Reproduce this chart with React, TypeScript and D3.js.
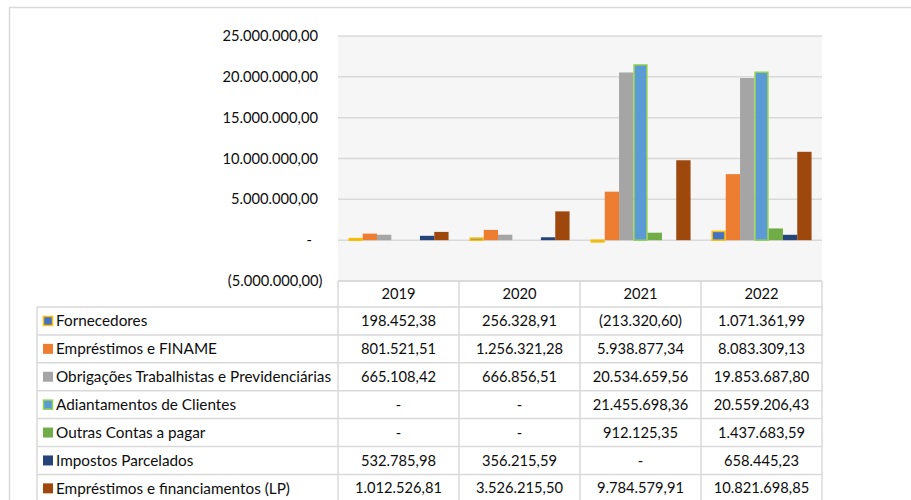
import React, { useEffect, useRef } from 'react';
import * as d3 from 'd3';

const years = ['2019', '2020', '2021', '2022'];

const seriesNames = [
  'Fornecedores',
  'Empréstimos e FINAME',
  'Obrigações Trabalhistas e Previdenciárias',
  'Adiantamentos de Clientes',
  'Outras Contas a pagar',
  'Impostos Parcelados',
  'Empréstimos e financiamentos (LP)',
];

const fornecedores = [198452.38, 256328.91, -213320.6, 1071361.99];
const emprestimosFiname = [801521.51, 1256321.28, 5938877.34, 8083309.13];
const obrigacoes = [665108.42, 666856.51, 20534659.56, 19853687.8];
const adiantamentos = [0, 0, 21455698.36, 20559206.43];
const outrasContas = [0, 0, 912125.35, 1437683.59];
const impostos = [532785.98, 356215.59, 0, 658445.23];
const emprestimosLP = [1012526.81, 3526215.5, 9784579.91, 10821698.85];

const seriesValues = [fornecedores, emprestimosFiname, obrigacoes, adiantamentos, outrasContas, impostos, emprestimosLP];

const fills = ['#4472c4', '#ed7d31', '#a5a5a5', '#5b9bd5', '#70ad47', '#264478', '#9e480e'];
const strokes = ['#ffc000', null, null, '#92d050', null, null, null];

const yTicks = [-5000000, 0, 5000000, 10000000, 15000000, 20000000, 25000000];

const locale = d3.formatLocale({ decimal: ',', thousands: '.', grouping: [3], currency: ['R$', ''] });
const fmt = locale.format('(,.2f');
const fmtVal = (v: number) => (v === 0 ? '-' : fmt(v));

const App: React.FC = () => {
  const ref = useRef<SVGSVGElement | null>(null);

  useEffect(() => {
    if (!ref.current) return;
    const W = 911;
    const H = 500;
    const plot = { left: 338, right: 822, top: 36, bottom: 281 };
    const rowH = 27.9;
    const headerBottom = 307;
    const tableLeft = 37;
    const font = 'Lato, "Noto Sans", sans-serif';
    const lineColor = '#d9d9d9';
    const textColor = '#0d0d0d';

    const svg = d3.select(ref.current);
    svg.selectAll('*').remove();
    svg.attr('width', W).attr('height', H).style('font-family', font);

    svg.append('rect').attr('width', W).attr('height', H).attr('fill', '#fff');

    // chart outer border
    svg.append('path')
      .attr('d', `M9.5,${H} L9.5,7.5 L${W},7.5`)
      .attr('fill', 'none').attr('stroke', lineColor).attr('stroke-width', 1.5);

    const x0 = d3.scaleBand().domain(years).range([plot.left, plot.right]);
    const x1 = d3.scaleBand().domain(seriesNames).range([0, x0.bandwidth()]).paddingOuter(0.73);
    const y = d3.scaleLinear().domain([-5000000, 25000000]).range([plot.bottom, plot.top]);

    svg.append('rect')
      .attr('x', plot.left).attr('y', plot.top)
      .attr('width', plot.right - plot.left).attr('height', plot.bottom - plot.top)
      .attr('fill', '#f6f6f6');

    svg.append('g').selectAll('line').data(yTicks).enter().append('line')
      .attr('x1', plot.left).attr('x2', plot.right)
      .attr('y1', d => y(d)).attr('y2', d => y(d))
      .attr('stroke', lineColor).attr('stroke-width', 1.5);

    svg.append('g').selectAll('text').data(yTicks).enter().append('text')
      .attr('x', d => (d < 0 ? 322.5 : d === 0 ? 312 : 318))
      .attr('y', d => y(d))
      .attr('dy', '0.35em')
      .attr('text-anchor', 'end')
      .attr('font-size', 14.7)
      .attr('fill', textColor)
      .text(d => (d === 0 ? '-' : fmt(d)));

    // bars
    seriesNames.forEach((name, si) => {
      const g = svg.append('g');
      g.selectAll('rect').data(seriesValues[si].map((v, i) => ({ v, year: years[i] })))
        .enter().append('rect')
        .filter(d => d.v !== 0)
        .attr('x', d => (x0(d.year) || 0) + (x1(name) || 0) + (strokes[si] ? 0.75 : 0))
        .attr('y', d => Math.min(y(d.v), y(0)))
        .attr('width', x1.bandwidth() - (strokes[si] ? 1.5 : 0))
        .attr('height', d => Math.abs(y(d.v) - y(0)))
        .attr('fill', fills[si])
        .attr('stroke', strokes[si] || 'none')
        .attr('stroke-width', 1.5);
    });

    // data table
    const tableBottom = headerBottom + rowH * seriesNames.length;
    const t = svg.append('g').attr('stroke', lineColor).attr('stroke-width', 1.5);
    t.append('line').attr('x1', plot.left).attr('x2', plot.right).attr('y1', plot.bottom).attr('y2', plot.bottom);
    [plot.left, ...years.map(yr => (x0(yr) || 0) + x0.bandwidth())].forEach(xx => {
      t.append('line').attr('x1', xx).attr('x2', xx).attr('y1', plot.bottom).attr('y2', tableBottom);
    });
    t.append('line').attr('x1', tableLeft).attr('x2', tableLeft).attr('y1', headerBottom).attr('y2', tableBottom);
    seriesNames.forEach((_, i) => {
      const yy = headerBottom + rowH * i;
      t.append('line').attr('x1', tableLeft).attr('x2', plot.right).attr('y1', yy).attr('y2', yy);
    });

    svg.append('g').selectAll('text').data(years).enter().append('text')
      .attr('x', d => (x0(d) || 0) + x0.bandwidth() / 2)
      .attr('y', (plot.bottom + headerBottom) / 2)
      .attr('dy', '0.35em')
      .attr('text-anchor', 'middle')
      .attr('font-size', 14.7)
      .attr('fill', textColor)
      .text(d => d);

    seriesNames.forEach((name, si) => {
      const cy = headerBottom + rowH * si + rowH / 2;
      const row = svg.append('g');
      row.append('rect')
        .attr('x', strokes[si] ? 43.5 : 43).attr('y', cy - 5 + (strokes[si] ? 0.5 : 0))
        .attr('width', strokes[si] ? 9 : 10).attr('height', strokes[si] ? 9 : 10)
        .attr('fill', fills[si])
        .attr('stroke', strokes[si] || 'none')
        .attr('stroke-width', 1.5);
      row.append('text')
        .attr('x', 56).attr('y', cy).attr('dy', '0.35em')
        .attr('font-size', 15.3).attr('fill', textColor)
        .text(name);
      row.selectAll('text.v').data(seriesValues[si].map((v, i) => ({ v, year: years[i] })))
        .enter().append('text')
        .attr('class', 'v')
        .attr('x', d => (x0(d.year) || 0) + x0.bandwidth() / 2)
        .attr('y', cy).attr('dy', '0.35em')
        .attr('text-anchor', 'middle')
        .attr('font-size', 14.7).attr('fill', textColor)
        .text(d => fmtVal(d.v));
    });
  }, []);

  return (
    <div style={{ position: 'absolute', left: 0, top: 0 }}>
      <svg ref={ref} style={{ display: 'block' }} />
    </div>
  );
};

export default App;
